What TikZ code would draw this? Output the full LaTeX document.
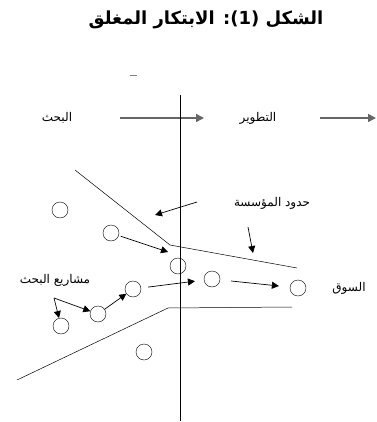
\documentclass[tikz,border=0pt]{standalone}
\usepackage{fontspec}
\usepackage{tikz}
\usetikzlibrary{arrows.meta,positioning}
\TeXXeTstate=1
\newfontfamily\arabicfont[Script=Arabic]{DejaVu Sans}
\newcommand{\ar}[1]{{\arabicfont\beginR #1\endR}}

\begin{document}
\begin{tikzpicture}[x=1pt,y=-1pt,>=Triangle,
  proj/.style={draw,circle,minimum size=16pt,inner sep=0pt},
  lbl/.style={font=\fontsize{12}{14}\selectfont,inner sep=0pt},
  flow/.style={->,draw=black!60,line width=1.6pt,>={Triangle[length=8pt,width=8pt]}},
  pt/.style={->,line width=0.7pt,>={Triangle[length=7pt,width=7pt]}}]
  \useasboundingbox (0,0) rectangle (376,422);

  % title
  \node (title) at (206,20) {\fontsize{18}{20}\selectfont\bfseries\ar{الشكل (1): الابتكار المغلق}};
  \draw[line width=0.6pt,black!50] (130,75) -- (137,75);

  % stages
  \node[lbl] (research) at (57,118) {\ar{البحث}};
  \node[lbl] (develop)  at (258,118) {\ar{التطوير}};
  \coordinate (f1s) at (120,118);
  \coordinate (f1e) at (204,118);
  \coordinate (f2s) at (320,118);
  \coordinate (f2e) at (376,118);
  \draw[flow] (f1s) -- (f1e);
  \draw[flow] (f2s) -- (f2e);

  % divider
  \coordinate (vtop) at (180,95);
  \coordinate (vbot) at (180,421);
  \draw[line width=0.6pt] (vtop) -- (vbot);

  % firm boundaries
  \coordinate (ua) at (75,170);
  \coordinate (ub) at (170,245);
  \coordinate (uc) at (297,268);
  \coordinate (la) at (17,380);
  \coordinate (lb) at (168,308);
  \coordinate (lc) at (292,307);
  \draw[line width=0.5pt] (ua) -- (ub) -- (uc);
  \draw[line width=0.5pt] (la) -- (lb) -- (lc);

  % projects
  \node[proj] (p1) at (60,210) {};
  \node[proj] (p2) at (111,233) {};
  \node[proj] (p3) at (178,266) {};
  \node[proj] (p4) at (212,279) {};
  \node[proj] (p5) at (298,288) {};
  \node[proj] (p6) at (133,289) {};
  \node[proj] (p7) at (98,314) {};
  \node[proj] (p8) at (61,326) {};
  \node[proj] (p9) at (144,352) {};

  % labels
  \node[lbl] (bound)  at (272,203) {\ar{حدود المؤسسة}};
  \node[lbl] (market) at (349,288) {\ar{السوق}};
  \node[lbl] (projs)  at (55,280) {\ar{مشاريع البحث}};

  % arrows
  \coordinate (b1s) at (197,202);
  \coordinate (b1e) at (155,215);
  \coordinate (b2s) at (248,227);
  \coordinate (b2e) at (253,253);
  \coordinate (ue) at (168,252);
  \coordinate (fork) at (54,298);
  \draw[pt] (b1s) -- (b1e);
  \draw[pt] (b2s) -- (b2e);
  \draw[pt,shorten <=2pt] (p2) -- (ue);
  \draw[pt] (fork) -- (p8);
  \draw[pt] (fork) -- (p7);
  \draw[pt] (p7) -- (p6);
  \draw[pt,shorten <=7pt,shorten >=9pt] (p6) -- (p4);
  \draw[pt,shorten <=11pt,shorten >=11pt] (p4) -- (p5);
\end{tikzpicture}
\end{document}
